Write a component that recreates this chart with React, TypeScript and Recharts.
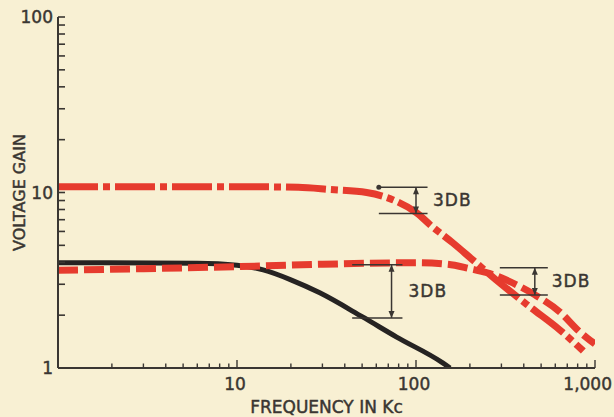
import React from 'react';
import { LineChart, Line, XAxis, YAxis, ReferenceLine, ReferenceDot } from 'recharts';

// Black solid curve
const freqBlack = [1, 6, 10, 14, 20, 29, 50, 78, 141, 155];
const gainBlack = [3.98, 3.95, 3.85, 3.62, 3.18, 2.68, 1.96, 1.5, 1.07, 1.0];

// Red dashed curve
const freqDashed = [1, 3, 10, 30, 100, 150, 200, 250, 364, 462, 635, 820, 1000];
const gainDashed = [3.6, 3.68, 3.78, 3.9, 3.98, 3.9, 3.68, 3.49, 2.98, 2.61, 2.09, 1.61, 1.37];

// Red dash-dot curve
const freqDashDot = [1, 10, 22, 33, 53, 74, 100, 123, 160, 207, 280, 433, 635, 860];
const gainDashDot = [10.8, 10.8, 10.7, 10.4, 10.0, 9.1, 7.7, 6.4, 5.18, 4.14, 3.18, 2.23, 1.65, 1.25];

// 3 dB markers: [xStart, xEnd, xArrow, upper, lower]
const markerA = [62, 116, 100, 10.7, 7.6];
const markerB = [44, 84, 73, 3.88, 1.93];
const markerC = [294, 545, 461, 3.73, 2.61];
const markers = [markerA, markerB, markerC];
const markerLabel = '3DB';

const xTicks = [2, 3, 4, 5, 6, 7, 8, 9, 10, 20, 30, 40, 50, 60, 70, 80, 90, 100, 200, 300, 400, 500, 600, 700, 800, 900, 1000];
const xLabels = [10, 100, 1000];
const yTicks = [1, 2, 3, 4, 5, 6, 7, 8, 9, 10, 20, 30, 40, 50, 60, 70, 80, 90, 100];
const yLabels = [1, 10, 100];

const xTitle = 'FREQUENCY IN Kc';
const yTitle = 'VOLTAGE GAIN';

const zip = (xs: number[], ys: number[]) => xs.map((x, i) => ({ x, y: ys[i] }));
const dataBlack = zip(freqBlack, gainBlack);
const dataDashed = zip(freqDashed, gainDashed);
const dataDashDot = zip(freqDashDot, gainDashDot);

const INK = '#3a3632';
const RED = '#e63b2e';
const FONT = 'DejaVu Sans';
const TEXT_STROKE = { stroke: INK, strokeWidth: 0.45 };

const fmt = (v: number) => v.toLocaleString('en-US');

const YTick = (props: any) => {
  const { x, y, payload } = props;
  const v = payload.value;
  const major = yLabels.includes(v);
  return (
    <g>
      <line x1={x} y1={y} x2={x + 7} y2={y} stroke={INK} strokeWidth={1.6} />
      {major && (
        <text x={x - 5} y={y} dy="0.36em" textAnchor="end" fill={INK} fontSize={17} fontFamily={FONT} {...TEXT_STROKE}>
          {fmt(v)}
        </text>
      )}
    </g>
  );
};

const XTick = (props: any) => {
  const { x, y, payload } = props;
  const v = payload.value;
  const major = xLabels.includes(v);
  const last = v === xLabels[xLabels.length - 1];
  return (
    <g>
      <line x1={x} y1={y} x2={x} y2={y - (major ? 8 : 4.5)} stroke={INK} strokeWidth={1.4} />
      {major && (
        <text
          x={last ? x + 17 : x - 2}
          y={y + 22}
          textAnchor={last ? 'end' : 'middle'}
          fill={INK}
          fontSize={17}
          fontFamily={FONT}
          {...TEXT_STROKE}
        >
          {fmt(v)}
        </text>
      )}
    </g>
  );
};

const ArrowShape = (props: any) => {
  const { x1, y1, x2, y2 } = props;
  const top = Math.min(y1, y2);
  const bot = Math.max(y1, y2);
  const x = x1;
  return (
    <g>
      <line x1={x} y1={top} x2={x} y2={bot} stroke={INK} strokeWidth={1.5} />
      <polygon points={`${x},${top} ${x - 3},${top + 7} ${x + 3},${top + 7}`} fill={INK} />
      <polygon points={`${x},${bot} ${x - 3},${bot - 7} ${x + 3},${bot - 7}`} fill={INK} />
    </g>
  );
};

export default function App() {
  return (
    <div style={{ position: 'absolute', left: 0, top: 0, width: 614, height: 417, background: '#f8f0d3' }}>
      <LineChart width={614} height={417} margin={{ top: 17, right: 19, bottom: 0, left: 12 }}>
        <XAxis
          dataKey="x"
          type="number"
          scale="log"
          domain={[1, 1000]}
          allowDataOverflow
          ticks={xTicks}
          interval={0}
          tick={XTick}
          tickLine={false}
          tickSize={0}
          tickMargin={0}
          height={49}
          axisLine={{ stroke: INK, strokeWidth: 2 }}
          label={{ value: xTitle, position: 'insideBottom', offset: 4, fill: INK, fontSize: 17, fontFamily: FONT, ...TEXT_STROKE }}
        />
        <YAxis
          dataKey="y"
          type="number"
          scale="log"
          domain={[1, 100]}
          allowDataOverflow
          ticks={yTicks}
          interval={0}
          tick={YTick}
          tickLine={false}
          tickSize={0}
          tickMargin={0}
          width={46}
          axisLine={{ stroke: INK, strokeWidth: 2 }}
          label={{
            value: yTitle,
            angle: -90,
            position: 'insideLeft',
            offset: 7,
            fill: INK,
            fontSize: 16,
            fontFamily: FONT,
            ...TEXT_STROKE,
            style: { textAnchor: 'middle' },
          }}
        />
        <Line
          data={dataBlack}
          dataKey="y"
          type="monotone"
          stroke="#262322"
          strokeWidth={5}
          dot={false}
          isAnimationActive={false}
        />
        <Line
          data={dataDashed}
          dataKey="y"
          type="monotone"
          stroke={RED}
          strokeWidth={7}
          strokeDasharray="20 6"
          dot={false}
          isAnimationActive={false}
        />
        <Line
          data={dataDashDot}
          dataKey="y"
          type="monotone"
          stroke={RED}
          strokeWidth={7}
          strokeDasharray="40 5 7 5"
          dot={false}
          isAnimationActive={false}
        />
        {markers.map((m, i) => (
          <ReferenceLine
            key={`u${i}`}
            segment={[{ x: m[0], y: m[3] }, { x: m[1], y: m[3] }]}
            stroke={INK}
            strokeWidth={1.5}
          />
        ))}
        {markers.map((m, i) => (
          <ReferenceLine
            key={`l${i}`}
            segment={[{ x: m[0], y: m[4] }, { x: m[1], y: m[4] }]}
            stroke={INK}
            strokeWidth={1.5}
          />
        ))}
        {markers.map((m, i) => (
          <ReferenceLine
            key={`a${i}`}
            segment={[{ x: m[2], y: m[3] }, { x: m[2], y: m[4] }]}
            shape={ArrowShape}
            label={{ value: markerLabel, position: 'right', offset: 17, fill: INK, fontSize: 17, fontFamily: FONT, letterSpacing: 1, ...TEXT_STROKE }}
          />
        ))}
        <ReferenceDot x={markerA[0]} y={markerA[3]} r={2.5} fill={INK} stroke="none" />
      </LineChart>
    </div>
  );
}
